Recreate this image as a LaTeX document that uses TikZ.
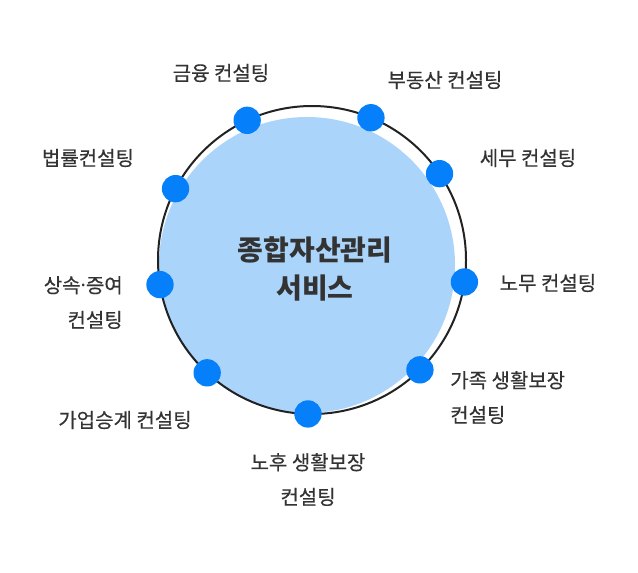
\documentclass[tikz,border=0pt]{standalone}
\usepackage{fontspec}
\usepackage{xcolor}
\usepackage{tikz}
\usetikzlibrary{positioning}
\newfontfamily\krfont{Noto Sans CJK KR}
\newfontfamily\krlbl{Noto Sans CJK KR}[FakeBold=0.35]
\newfontfamily\latinfont{Noto Sans}
\definecolor{C_DOT} {HTML}{0580FA}
\definecolor{C_FILL}{HTML}{ABD4FB}
\definecolor{C_RING}{HTML}{222222}
\definecolor{C_TXT} {HTML}{333333}
\tikzset{
  %% -- filled disc behind the ring --
  svc/disc/.style={
    circle, fill=C_FILL, inner sep=0pt, minimum size=222pt
  },
  %% -- outer ring --
  svc/ring/.style={
    circle, draw=C_RING, line width=1.5pt, inner sep=0pt, minimum size=231pt
  },
  %% -- blue dot on the ring --
  svc/dot/.style={circle, fill=C_DOT, inner sep=0pt, minimum size=20.5pt},
  %% -- service label --
  svc/lbl/.style={
    font=\krlbl\fontsize{15}{26}\selectfont, text=C_TXT,
    align=center, inner sep=0pt
  },
  %% -- centre title --
  svc/core/.style={
    font=\krfont\bfseries\fontsize{21}{28.5}\selectfont, text=C_TXT,
    align=center, inner sep=0pt
  },
}
\begin{document}
\begin{tikzpicture}[
  x=0.75pt, y=0.75pt,
]
\useasboundingbox (0,0) rectangle (638,-572);

%% Disc and ring
\node[svc/disc] (disc) at (307,-265) {};
\node[svc/ring] (ring) at (312,-260) {};

%% Title
\node[svc/core] (title) at (315,-269) {종합자산관리\\서비스};

%% Dots on the ring
\node[svc/dot] (d-fin)   at ([shift={(114.9:154)}]ring.center) {};
\node[svc/dot] (d-real)  at ([shift={(67.5:154)}]ring.center)  {};
\node[svc/dot] (d-tax)   at ([shift={(34.1:154)}]ring.center)  {};
\node[svc/dot] (d-law)   at ([shift={(152.4:154)}]ring.center) {};
\node[svc/dot] (d-inh)   at ([shift={(189.2:154)}]ring.center) {};
\node[svc/dot] (d-labor) at ([shift={(-8.2:154)}]ring.center)  {};
\node[svc/dot] (d-biz)   at ([shift={(227.1:154)}]ring.center) {};
\node[svc/dot] (d-fam)   at ([shift={(-45.5:154)}]ring.center) {};
\node[svc/dot] (d-old)   at ([shift={(268.5:154)}]ring.center) {};

%% Labels
\node[svc/lbl] (l-fin)   at (221,-73)  {금융 컨설팅};
\node[svc/lbl] (l-real)  at (445,-80)  {부동산 컨설팅};
\node[svc/lbl] (l-tax)   at (528,-158) {세무 컨설팅};
\node[svc/lbl] (l-law)   at (88,-158)  {법률컨설팅};
\node[svc/lbl, anchor=east, align=right] (l-inh)
  at (123,-302.5) {상속{\latinfont\fontsize{15}{26}\selectfont·}증여\\컨설팅};
\node[svc/lbl] (l-labor) at (548,-283) {노무 컨설팅};
\node[svc/lbl] (l-biz)   at (125,-420) {가업승계 컨설팅};
\node[svc/lbl, anchor=west, align=left] (l-fam)
  at (450,-397.5) {가족 생활보장\\컨설팅};
\node[svc/lbl] (l-old)   at (308,-479.5) {노후 생활보장\\컨설팅};
\end{tikzpicture}
\end{document}
